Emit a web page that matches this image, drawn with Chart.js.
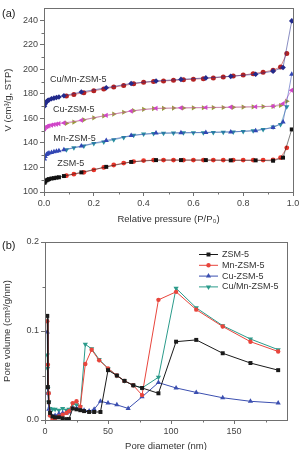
<!DOCTYPE html>
<html>
<head>
<meta charset="utf-8">
<script src="https://cdn.jsdelivr.net/npm/chart.js@4.4.1/dist/chart.umd.min.js"></script>
<style>
  html, body { margin: 0; padding: 0; background: #fff; overflow: hidden; }
  #wrap { position: relative; width: 299px; height: 450px; }
  canvas { position: absolute; left: 0; }
  #chartA { top: 0; }
  #chartB { top: 225px; }
</style>
</head>
<body>
<div id="wrap">
  <canvas id="chartA" width="299" height="225"></canvas>
  <canvas id="chartB" width="299" height="225"></canvas>
</div>
<script>
// ---- (a) N2 adsorption / desorption isotherms ----
const adsP = [0.002, 0.005, 0.01, 0.015, 0.02, 0.03, 0.04, 0.05, 0.06, 0.08, 0.15, 0.25, 0.35, 0.45, 0.55, 0.65, 0.75, 0.85, 0.92, 0.96, 0.995];
const desP = [0.975, 0.95, 0.92, 0.88, 0.84, 0.8, 0.76, 0.72, 0.68, 0.64, 0.6, 0.56, 0.52, 0.48, 0.44, 0.4, 0.36, 0.32, 0.28, 0.24, 0.2, 0.16, 0.12, 0.09];

const zsmAds = [107.5, 108.5, 109.5, 110, 110.5, 111, 111.3, 111.7, 112, 113, 116, 120.5, 124.5, 126, 126, 126, 125.8, 125.8, 125.5, 128, 151];
const zsmDes = [136, 128, 126.2, 126, 126, 126, 126, 126, 126, 126, 126, 126, 126, 126, 126, 125.6, 124.8, 123.6, 122, 120, 118, 116, 114.5, 113.3];

const mnAds = [127, 129, 130.5, 131.2, 131.8, 132.3, 132.8, 133.2, 133.6, 134.4, 137.5, 142, 146, 148, 148.3, 148.6, 149, 150, 152.5, 157, 196];
const mnDes = [169.5, 155, 153, 151, 150, 149.4, 149, 148.8, 148.6, 148.4, 148.3, 148.2, 148, 147.8, 147.6, 147.3, 146.2, 144.5, 142.5, 140.7, 139.5, 137.5, 136, 134.5];

const cuAds = [151.5, 152.5, 153.2, 153.7, 154, 154.5, 155, 155.3, 155.7, 156.3, 158.5, 162.5, 166, 168.2, 168.6, 168.9, 169.2, 169.5, 170, 172, 183];
const cuDes = [174, 170.5, 169.8, 169.6, 169.4, 169.2, 169, 168.9, 168.8, 168.7, 168.6, 168.5, 168.4, 168.2, 168, 167.4, 166.3, 165, 163.5, 162, 160.5, 158.8, 157, 156];

const cumnAds = [170, 172, 173.5, 174.5, 175, 176, 176.5, 177, 177.5, 178.5, 181.5, 185, 188.5, 190.5, 191.8, 193, 194.3, 196, 198.5, 201.5, 239.5];
const cumnDes = [213, 202, 199.3, 197.7, 196.5, 195.3, 194.5, 193.8, 193, 192.4, 192, 191.5, 191, 190.5, 190, 189.4, 188.2, 186.8, 185.5, 184, 182.5, 181, 179.5, 178.2];

const curveLabels = ['Cu/Mn-ZSM-5', 'Cu-ZSM-5', 'Mn-ZSM-5', 'ZSM-5'];
const curveLabelP = [0.024, 0.036, 0.037, 0.053];
const curveLabelV = [191.5, 167, 144, 123];

const isoTicksY = [100, 120, 140, 160, 180, 200, 220, 240];

// ---- (b) pore size distribution ----
const zsmD = [1.8, 2.3, 3, 4, 6, 8, 11, 14, 17, 19, 22, 25, 28, 31, 35, 39, 44, 50, 57, 63, 70, 77, 90, 104, 120, 141, 163, 185];
const zsmV = [0.117, 0.037, 0.02, 0.008, 0.004, 0.003, 0.003, 0.002, 0.001, 0.001, 0.013, 0.012, 0.011, 0.010, 0.009, 0.009, 0.009, 0.056, 0.05, 0.044, 0.039, 0.036, 0.030, 0.088, 0.09, 0.075, 0.064, 0.056];

const mnD = [1.8, 2.3, 3, 4, 6, 8, 11, 14, 17, 19, 22, 25, 28, 32, 37, 43, 50, 57, 63, 70, 77, 90, 104, 120, 141, 163, 185];
const mnV = [0.111, 0.062, 0.03, 0.005, 0.001, 0.002, 0.004, 0.006, 0.008, 0.01, 0.019, 0.021, 0.015, 0.063, 0.079, 0.067, 0.058, 0.05, 0.044, 0.039, 0.028, 0.135, 0.144, 0.124, 0.105, 0.088, 0.077];

const cuD = [1.8, 2.3, 3, 4, 6, 8, 11, 14, 17, 19, 22, 25, 28, 31, 35, 39, 44, 50, 57, 66, 77, 90, 104, 120, 141, 163, 185];
const cuV = [0.099, 0.03, 0.012, 0.006, 0.004, 0.005, 0.007, 0.008, 0.008, 0.009, 0.013, 0.013, 0.012, 0.011, 0.010, 0.012, 0.021, 0.019, 0.017, 0.013, 0.026, 0.042, 0.036, 0.031, 0.025, 0.021, 0.019];

const cumnD = [1.8, 2.0, 2.3, 2.6, 3, 4, 6, 8, 11, 14, 17, 19, 22, 25, 28, 32, 37, 43, 50, 57, 63, 70, 77, 90, 104, 120, 141, 163, 185];
const cumnV = [0.073, 0.058, 0.035, 0.03, 0.02, 0.013, 0.012, 0.012, 0.011, 0.013, 0.011, 0.012, 0.018, 0.017, 0.015, 0.085, 0.080, 0.068, 0.058, 0.050, 0.044, 0.039, 0.036, 0.048, 0.148, 0.126, 0.106, 0.091, 0.079];

const psdNames = ['ZSM-5', 'Mn-ZSM-5', 'Cu-ZSM-5', 'Cu/Mn-ZSM-5'];

const FONT = '"Liberation Sans", Arial, Helvetica, sans-serif';
const AXIS = '#707070';
const TXT = '#444';

function pts(xs, ys) {
    return xs.map((x, i) => ({ x: x, y: ys[i] }));
}

function drawMarker(ctx, style, rot, r, x, y, color) {
    ctx.save();
    ctx.translate(x, y);
    ctx.rotate(rot * Math.PI / 180);
    ctx.fillStyle = color;
    ctx.beginPath();
    if (style === 'rect') {
        const s = r * Math.SQRT1_2;
        ctx.rect(-s, -s, 2 * s, 2 * s);
    } else if (style === 'triangle') {
        ctx.moveTo(0, -r);
        ctx.lineTo(r * 0.866, r * 0.5);
        ctx.lineTo(-r * 0.866, r * 0.5);
        ctx.closePath();
    } else {
        ctx.arc(0, 0, r, 0, Math.PI * 2);
    }
    ctx.fill();
    ctx.restore();
}

// frame round the plot + minor ticks + panel letter
const framePlugin = {
    id: 'framePlugin',
    afterDraw(chart, args, opts) {
        const ctx = chart.ctx;
        const a = chart.chartArea;
        ctx.save();
        ctx.strokeStyle = AXIS;
        ctx.lineWidth = 1;
        ctx.strokeRect(Math.round(a.left) + 0.5, Math.round(a.top) + 0.5, Math.round(a.right - a.left), Math.round(a.bottom - a.top));
        const sx = chart.scales.x, sy = chart.scales.y;
        ctx.beginPath();
        (opts.minorX || []).forEach(v => {
            const px = Math.round(sx.getPixelForValue(v)) + 0.5;
            ctx.moveTo(px, a.bottom);
            ctx.lineTo(px, a.bottom + 2.5);
        });
        (opts.minorY || []).forEach(v => {
            const py = Math.round(sy.getPixelForValue(v)) + 0.5;
            ctx.moveTo(a.left - 2.5, py);
            ctx.lineTo(a.left, py);
        });
        ctx.stroke();
        if (opts.letter) {
            ctx.fillStyle = '#222';
            ctx.font = '11px ' + FONT;
            ctx.textBaseline = 'middle';
            ctx.fillText(opts.letter, 2, opts.letterY);
        }
        ctx.restore();
    }
};

const curveLabelPlugin = {
    id: 'curveLabelPlugin',
    afterDatasetsDraw(chart) {
        const ctx = chart.ctx;
        const sx = chart.scales.x, sy = chart.scales.y;
        ctx.save();
        ctx.fillStyle = '#333';
        ctx.font = '9px ' + FONT;
        ctx.textBaseline = 'middle';
        curveLabels.forEach((t, i) => {
            ctx.fillText(t, sx.getPixelForValue(curveLabelP[i]), sy.getPixelForValue(curveLabelV[i]));
        });
        ctx.restore();
    }
};

const psdLegendPlugin = {
    id: 'psdLegendPlugin',
    afterDraw(chart) {
        const ctx = chart.ctx;
        ctx.save();
        ctx.font = '9px ' + FONT;
        ctx.textBaseline = 'middle';
        chart.data.datasets.forEach((ds, i) => {
            const y = 29.5 + i * 10.8;
            ctx.strokeStyle = ds.borderColor;
            ctx.lineWidth = 1;
            ctx.beginPath();
            ctx.moveTo(199, y);
            ctx.lineTo(218, y);
            ctx.stroke();
            drawMarker(ctx, ds.pointStyle, ds.pointRotation || 0, ds.pointRadius, 208.5, y, ds.pointBackgroundColor);
            ctx.fillStyle = '#333';
            ctx.fillText(ds.label, 222, y);
        });
        ctx.restore();
    }
};

function isoSet(label, xs, ys, color, style, rot, r) {
    return {
        label: label,
        data: pts(xs, ys),
        showLine: true,
        borderColor: color + 'aa',
        borderWidth: 0.8,
        pointStyle: style,
        pointRotation: rot,
        pointRadius: r,
        pointBackgroundColor: color,
        pointBorderWidth: 0
    };
}

function psdSet(label, xs, ys, color, style, rot, r) {
    return {
        label: label,
        data: pts(xs, ys),
        showLine: true,
        borderColor: color,
        borderWidth: 1,
        pointStyle: style,
        pointRotation: rot,
        pointRadius: r,
        pointBackgroundColor: color,
        pointBorderWidth: 0
    };
}

function axisCommon() {
    return {
        border: { display: true, color: AXIS, width: 1 },
        grid: { drawOnChartArea: false, drawTicks: true, tickLength: 4, color: AXIS },
        ticks: { color: TXT, font: { family: FONT, size: 9 }, padding: 2, maxRotation: 0, autoSkip: false, includeBounds: false }
    };
}

// ---- chart (a) ----
const axA = axisCommon(), ayA = axisCommon();
new Chart(document.getElementById('chartA'), {
    type: 'scatter',
    data: {
        datasets: [
            isoSet('ZSM-5 ads', adsP, zsmAds, '#111111', 'rect', 0, 2.8),
            isoSet('ZSM-5 des', desP, zsmDes, '#e8352a', 'circle', 0, 2.4),
            isoSet('Mn-ZSM-5 ads', adsP, mnAds, '#3246b4', 'triangle', 0, 3),
            isoSet('Mn-ZSM-5 des', desP, mnDes, '#2a8fa0', 'triangle', 180, 3),
            isoSet('Cu-ZSM-5 ads', adsP, cuAds, '#d046c8', 'triangle', 270, 3),
            isoSet('Cu-ZSM-5 des', desP, cuDes, '#9a9a3c', 'triangle', 90, 3),
            isoSet('Cu/Mn-ZSM-5 ads', adsP, cumnAds, '#222a8c', 'rectRot', 0, 2.8),
            isoSet('Cu/Mn-ZSM-5 des', desP, cumnDes, '#b42222', 'circle', 0, 2.5)
        ]
    },
    options: {
        responsive: false,
        animation: false,
        layout: { padding: { top: 8, right: 6, bottom: 0, left: 0 } },
        plugins: {
            legend: { display: false },
            tooltip: { enabled: false },
            framePlugin: { minorX: [0.1, 0.3, 0.5, 0.7, 0.9], minorY: [110, 130, 150, 170, 190, 210, 230], letter: '(a)', letterY: 14 }
        },
        scales: {
            x: Object.assign(axA, {
                type: 'linear', min: 0, max: 1,
                ticks: Object.assign(axA.ticks, { stepSize: 0.2, callback: v => v.toFixed(1) }),
                title: { display: true, text: 'Relative pressure (P/P\u2080)', color: '#333', font: { family: FONT, size: 9.5 }, padding: { top: 0, bottom: 0 } },
                afterFit: s => { s.height = 33; s.paddingLeft = 0; s.paddingRight = 0; }
            }),
            y: Object.assign(ayA, {
                type: 'linear', min: 100, max: 250,
                ticks: Object.assign(ayA.ticks, { stepSize: 20 }),
                afterBuildTicks: s => { s.ticks = isoTicksY.map(v => ({ value: v })); },
                title: { display: true, text: 'V (cm\u00b3/g, STP)', color: '#333', font: { family: FONT, size: 9.5 }, padding: { top: 3, bottom: 0 } },
                afterFit: s => { s.width = 44; s.paddingTop = 0; s.paddingBottom = 0; }
            })
        }
    },
    plugins: [framePlugin, curveLabelPlugin]
});

// ---- chart (b) ----
const axB = axisCommon(), ayB = axisCommon();
new Chart(document.getElementById('chartB'), {
    type: 'scatter',
    data: {
        datasets: [
            psdSet(psdNames[0], zsmD, zsmV, '#1a1a1a', 'rect', 0, 2.8),
            psdSet(psdNames[1], mnD, mnV, '#e8453c', 'circle', 0, 2.2),
            psdSet(psdNames[2], cuD, cuV, '#3b4fb0', 'triangle', 0, 3),
            psdSet(psdNames[3], cumnD, cumnV, '#2b9b8b', 'triangle', 180, 3)
        ]
    },
    options: {
        responsive: false,
        animation: false,
        layout: { padding: { top: 17, right: 12, bottom: 0, left: 0 } },
        plugins: {
            legend: { display: false },
            tooltip: { enabled: false },
            framePlugin: { minorX: [25, 75, 125, 175], minorY: [0.05, 0.15], letter: '(b)', letterY: 21 }
        },
        scales: {
            x: Object.assign(axB, {
                type: 'linear', min: 0, max: 192,
                ticks: Object.assign(axB.ticks, { stepSize: 50 }),
                title: { display: true, text: 'Pore diameter (nm)', color: '#333', font: { family: FONT, size: 9.5 }, padding: { top: 0, bottom: -2 } },
                afterFit: s => { s.height = 30; s.paddingLeft = 0; s.paddingRight = 0; }
            }),
            y: Object.assign(ayB, {
                type: 'linear', min: 0, max: 0.2,
                ticks: Object.assign(ayB.ticks, { stepSize: 0.1, callback: v => v.toFixed(1) }),
                title: { display: true, text: 'Pore volume (cm\u00b3/g/nm)', color: '#333', font: { family: FONT, size: 9.5 }, padding: { top: 2, bottom: 0 } },
                afterFit: s => { s.width = 45; s.paddingTop = 0; s.paddingBottom = 0; }
            })
        }
    },
    plugins: [framePlugin, psdLegendPlugin]
});
</script>
</body>
</html>
